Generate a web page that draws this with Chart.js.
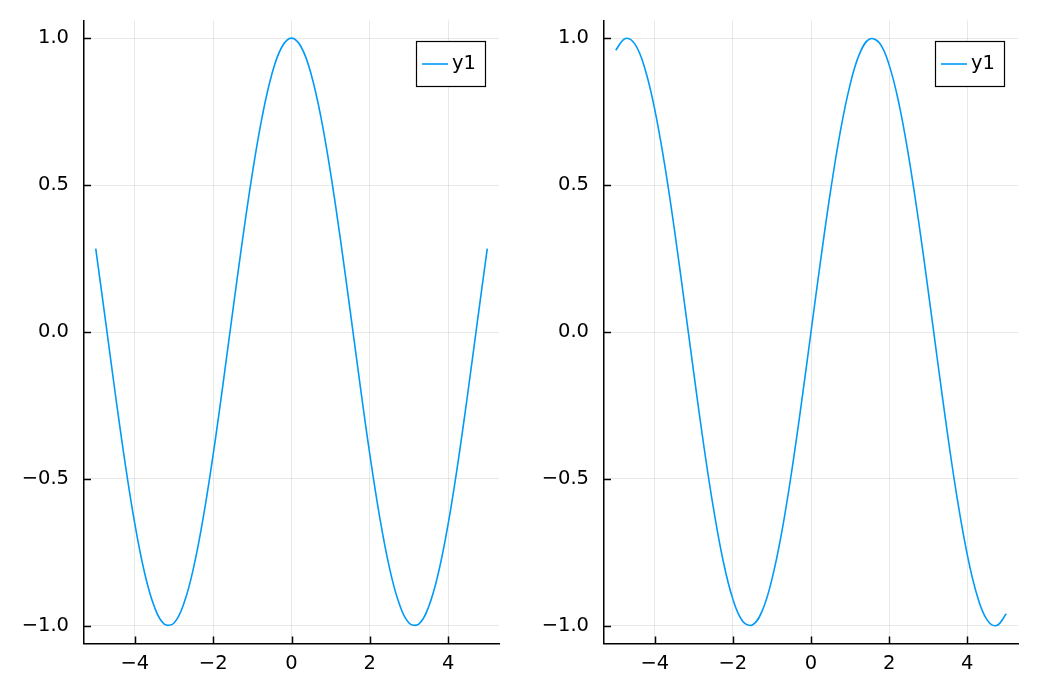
<!DOCTYPE html>
<html>
<head>
<meta charset="utf-8">
<script src="https://cdn.jsdelivr.net/npm/chart.js@4/dist/chart.umd.min.js"></script>
<style>
  html, body { margin: 0; padding: 0; background: #fff; }
  #wrap { position: relative; width: 1039px; height: 693px; }
  canvas { position: absolute; top: 0; }
</style>
</head>
<body>
<div id="wrap">
  <canvas id="left"  width="520" height="693" style="left:0"></canvas>
  <canvas id="right" width="519" height="693" style="left:520px"></canvas>
</div>
<script>
// ── Data ─────────────────────────────────────────────────────
const xs = [
  -5, -4.75, -4.5, -4.25, -4, -3.75, -3.5, -3.25, -3, -2.75, -2.5,
  -2.25, -2, -1.75, -1.5, -1.25, -1, -0.75, -0.5, -0.25, 0,
  0.25, 0.5, 0.75, 1, 1.25, 1.5, 1.75, 2, 2.25, 2.5,
  2.75, 3, 3.25, 3.5, 3.75, 4, 4.25, 4.5, 4.75, 5,
];
// left panel
const leftY = [
  0.284, 0.038, -0.211, -0.446, -0.654, -0.821, -0.936, -0.994, -0.990, -0.924, -0.801,
  -0.628, -0.416, -0.178, 0.071, 0.315, 0.540, 0.732, 0.878, 0.969, 1.000,
  0.969, 0.878, 0.732, 0.540, 0.315, 0.071, -0.178, -0.416, -0.628, -0.801,
  -0.924, -0.990, -0.994, -0.936, -0.821, -0.654, -0.446, -0.211, 0.038, 0.284,
];
// right panel
const rightY = [
  0.959, 0.999, 0.978, 0.895, 0.757, 0.572, 0.351, 0.108, -0.141, -0.382, -0.598,
  -0.778, -0.909, -0.984, -0.997, -0.949, -0.841, -0.682, -0.479, -0.247, 0.000,
  0.247, 0.479, 0.682, 0.841, 0.949, 0.997, 0.984, 0.909, 0.778, 0.598,
  0.382, 0.141, -0.108, -0.351, -0.572, -0.757, -0.895, -0.978, -0.999, -0.959,
];
const seriesLabel = 'y1';

const xTicks = [-4, -2, 0, 2, 4];
const xTickLabels = ['\u22124', '\u22122', '0', '2', '4'];
const yTicks = [-1, -0.5, 0, 0.5, 1];
const yTickLabels = ['\u22121.0', '\u22120.5', '0.0', '0.5', '1.0'];

const X_MIN = -5.3, X_MAX = 5.3;
const Y_MIN = -1.06, Y_MAX = 1.06;

// ── Style ────────────────────────────────────────────────────
const LINE_COLOR = '#009af9';
const FONT = 'DejaVu Sans';
const FONT_SIZE = 19.5;
const GRID = 'rgba(0,0,0,0.09)';

// inward tick marks + boxed legend
const axisDecor = {
  id: 'axisDecor',
  afterDatasetsDraw(chart) {
    const { ctx, chartArea: a, scales: { x, y } } = chart;
    ctx.save();
    ctx.strokeStyle = '#000';
    ctx.lineWidth = 1.5;
    ctx.beginPath();
    xTicks.forEach(v => {
      const px = Math.round(x.getPixelForValue(v)) + 0.5;
      ctx.moveTo(px, a.bottom);
      ctx.lineTo(px, a.bottom - 7);
    });
    yTicks.forEach(v => {
      const py = Math.round(y.getPixelForValue(v)) + 0.5;
      ctx.moveTo(a.left, py);
      ctx.lineTo(a.left + 7, py);
    });
    ctx.stroke();

    // legend
    const bx = a.right - 83, by = a.top + 20.5, bw = 69, bh = 45;
    ctx.fillStyle = '#fff';
    ctx.fillRect(bx, by, bw, bh);
    ctx.lineWidth = 1.2;
    ctx.strokeRect(bx + 0.5, by + 0.5, bw, bh);
    const ly = by + bh / 2 + 0.5;
    ctx.strokeStyle = LINE_COLOR;
    ctx.lineWidth = 1.6;
    ctx.beginPath();
    ctx.moveTo(bx + 6, ly);
    ctx.lineTo(bx + 32, ly);
    ctx.stroke();
    ctx.fillStyle = '#000';
    ctx.font = `${FONT_SIZE}px "${FONT}"`;
    ctx.textBaseline = 'middle';
    ctx.fillText(chart.data.datasets[0].label, bx + 36, ly);
    ctx.restore();
  },
};

function makeChart(id, ys) {
  return new Chart(document.getElementById(id), {
    type: 'line',
    data: {
      datasets: [{
        label: seriesLabel,
        data: xs.map((x, i) => ({ x, y: ys[i] })),
        borderColor: LINE_COLOR,
        borderWidth: 1.6,
        pointRadius: 0,
        tension: 0.4,
        fill: false,
      }],
    },
    options: {
      responsive: false,
      animation: false,
      layout: { padding: { top: 20.5, right: 21, left: 0, bottom: 0 } },
      plugins: { legend: { display: false }, tooltip: { enabled: false } },
      scales: {
        x: {
          type: 'linear', min: X_MIN, max: X_MAX,
          afterBuildTicks: s => { s.ticks = xTicks.map(v => ({ value: v })); },
          afterFit: s => { s.height = 49.5; s.paddingLeft = 0; s.paddingRight = 0; },
          grid: { color: GRID, lineWidth: 1, drawTicks: false },
          border: { display: true, color: '#000', width: 1.5 },
          ticks: {
            color: '#000', padding: 9, maxRotation: 0,
            font: { family: FONT, size: FONT_SIZE },
            callback: (v) => xTickLabels[xTicks.indexOf(v)],
          },
        },
        y: {
          type: 'linear', min: Y_MIN, max: Y_MAX,
          afterBuildTicks: s => { s.ticks = yTicks.map(v => ({ value: v })); },
          afterFit: s => { s.width = 84; s.paddingTop = 0; s.paddingBottom = 0; },
          grid: { color: GRID, lineWidth: 1, drawTicks: false },
          border: { display: true, color: '#000', width: 1.5 },
          ticks: {
            color: '#000', padding: 15,
            font: { family: FONT, size: FONT_SIZE },
            callback: (v) => yTickLabels[yTicks.indexOf(v)],
          },
        },
      },
    },
    plugins: [axisDecor],
  });
}

makeChart('left', leftY);
makeChart('right', rightY);
</script>
</body>
</html>
